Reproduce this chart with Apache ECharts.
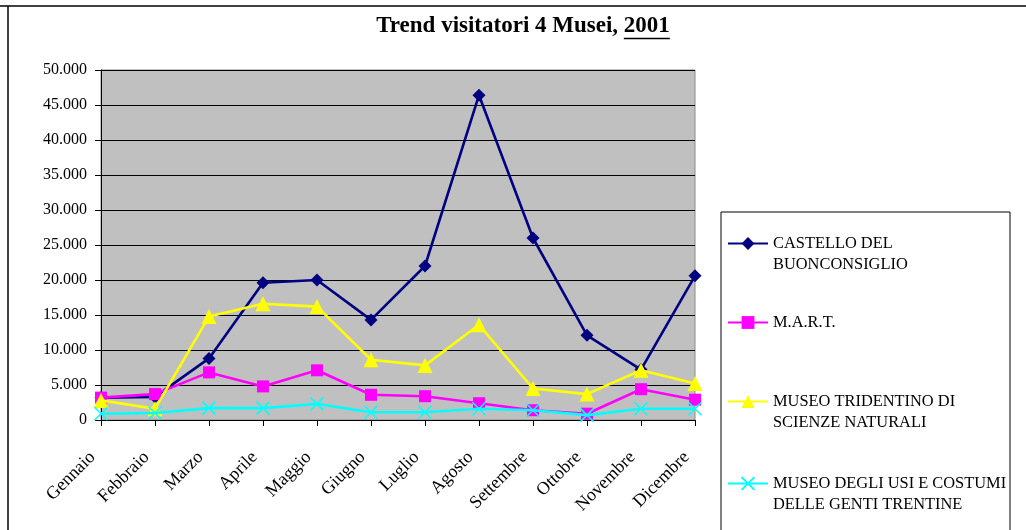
<!DOCTYPE html>
<html>
<head>
<meta charset="utf-8">
<script src="https://cdn.jsdelivr.net/npm/echarts@6/dist/echarts.min.js"></script>
<style>
html,body{margin:0;padding:0;background:#fff;}
#c{width:1026px;height:530px;}
</style>
</head>
<body>
<div id="c"></div>
<script>
const months = ['Gennaio','Febbraio','Marzo','Aprile','Maggio','Giugno','Luglio','Agosto','Settembre','Ottobre','Novembre','Dicembre'];
const castello = [3200, 3300, 8800, 19600, 20000, 14300, 22000, 46400, 26000, 12100, 7200, 20600];
const mart = [3200, 3700, 6800, 4800, 7100, 3600, 3400, 2400, 1400, 900, 4400, 2900];
const tridentino = [2800, 1600, 14800, 16600, 16200, 8600, 7800, 13600, 4500, 3700, 7100, 5200];
const usi = [900, 1000, 1700, 1700, 2300, 1100, 1100, 1600, 1400, 700, 1600, 1600];
const seriesNames = ['CASTELLO DEL\nBUONCONSIGLIO', 'M.A.R.T.', 'MUSEO TRIDENTINO DI\nSCIENZE NATURALI', 'MUSEO DEGLI USI E COSTUMI\nDELLE GENTI TRENTINE'];
const titleMain = 'Trend visitatori 4 Musei, ';
const titleYear = '2001';
const yTicks = {min: 0, max: 50000, interval: 5000};

const FONT = "'Liberation Serif', serif";
const TITLE_SIZE = 23;
const titleFont = 'bold ' + TITLE_SIZE + 'px ' + FONT;
const cv = document.createElement('canvas').getContext('2d');
cv.font = titleFont;
const wMain = cv.measureText(titleMain).width;
const wYear = cv.measureText(titleYear).width;
const wAll = wMain + wYear;
const titleCx = 523;
const titleLeft = titleCx - wAll / 2;

const chart = echarts.init(document.getElementById('c'), null, {renderer: 'canvas'});
const crossPath = 'path://M0,0L10,10M10,0L0,10';
const colors = ['#000080', '#FF00FF', '#FFFF00', '#00FFFF'];

function legendFor(i, top, multi) {
  return {
    data: [seriesNames[i]],
    left: 727, top: top, padding: 0,
    itemWidth: 40, itemHeight: 16,
    formatter: multi ? (n => '\n' + n) : (n => n),
    textStyle: {fontFamily: FONT, fontSize: 16.4, color: '#000', lineHeight: 21}
  };
}

const lineW = 2.6;
chart.setOption({
  animation: false,
  backgroundColor: '#fff',
  title: {
    text: titleMain + titleYear,
    left: titleLeft, top: 15, padding: 0,
    textStyle: {fontFamily: FONT, fontSize: TITLE_SIZE, fontWeight: 'bold', color: '#000'}
  },
  graphic: [
    {type: 'line', shape: {x1: 0, y1: 6, x2: 1026, y2: 6}, style: {stroke: '#000', lineWidth: 1.5}},
    {type: 'line', shape: {x1: 8, y1: 6, x2: 8, y2: 530}, style: {stroke: '#000', lineWidth: 1.5}},
    {type: 'rect', shape: {x: 721, y: 212, width: 289, height: 340}, style: {fill: '#fff', stroke: '#000', lineWidth: 1}, z: -1},
    {type: 'line', shape: {x1: titleLeft + wMain, y1: 38.5, x2: titleLeft + wAll, y2: 38.5}, style: {stroke: '#000', lineWidth: 1.6}}
  ],
  legend: [
    legendFor(0, 212, true),
    legendFor(1, 312, false),
    legendFor(2, 370, true),
    legendFor(3, 452, true)
  ],
  grid: {left: 101, right: 331, top: 70, bottom: 110, show: true, backgroundColor: '#C0C0C0', borderColor: '#8a8a8a', borderWidth: 1},
  xAxis: {
    type: 'category', data: months, boundaryGap: false,
    axisLine: {lineStyle: {color: '#000', width: 1}},
    axisTick: {show: true, length: 6, lineStyle: {color: '#000'}},
    axisLabel: {rotate: 45, margin: 26, padding: [0, 12, 0, 0], fontFamily: FONT, fontSize: 18, color: '#000', interval: 0},
    splitLine: {show: false}
  },
  yAxis: {
    type: 'value', min: yTicks.min, max: yTicks.max, interval: yTicks.interval,
    axisLine: {show: true, lineStyle: {color: '#000', width: 1}},
    axisTick: {show: true, length: 6, lineStyle: {color: '#000'}},
    axisLabel: {margin: 14, fontFamily: FONT, fontSize: 16, color: '#000',
      formatter: v => v === 0 ? '0' : String(v).replace(/\B(?=(\d{3})+(?!\d))/g, '.')},
    splitLine: {show: true, lineStyle: {color: '#000', width: 1}}
  },
  series: [
    {name: seriesNames[0], type: 'line', data: castello, symbol: 'diamond', symbolSize: 13,
      lineStyle: {color: colors[0], width: lineW}, itemStyle: {color: colors[0]}, z: 2},
    {name: seriesNames[1], type: 'line', data: mart, symbol: 'rect', symbolSize: 12,
      lineStyle: {color: colors[1], width: lineW}, itemStyle: {color: colors[1]}, z: 3},
    {name: seriesNames[2], type: 'line', data: tridentino, symbol: 'triangle', symbolSize: 15,
      lineStyle: {color: colors[2], width: lineW}, itemStyle: {color: colors[2]}, z: 4},
    {name: seriesNames[3], type: 'line', data: usi, symbol: crossPath, symbolSize: 13,
      lineStyle: {color: colors[3], width: lineW}, itemStyle: {color: colors[3], borderColor: colors[3], borderWidth: 1.5}, z: 5}
  ]
});
</script>
</body>
</html>
